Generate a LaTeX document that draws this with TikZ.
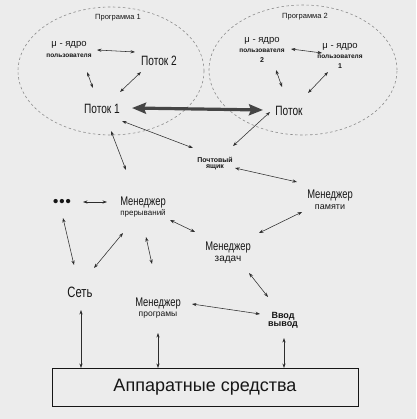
\documentclass[tikz,border=0pt]{standalone}
\usepackage{fontspec}
\setmainfont{Liberation Sans}
\newfontfamily\narrowfont[FakeStretch=0.75]{Liberation Sans}
\usetikzlibrary{arrows.meta,shapes.geometric,calc}
\definecolor{bg}{HTML}{ECECEC}
\definecolor{ink}{HTML}{161616}
\definecolor{dashgray}{HTML}{8C8C8C}
\newcommand\setfs[1]{\fontsize{#1}{#1}\selectfont}
\begin{document}
\begin{tikzpicture}[x=1pt,y=-1pt,
  link/.style={{Stealth[length=4.5pt,width=3.2pt]}-{Stealth[length=4.5pt,width=3.2pt]}, line width=0.55pt, draw=ink!90},
  biglink/.style={{Stealth[length=14pt,width=11pt,inset=2pt]}-{Stealth[length=14pt,width=11pt,inset=2pt]}, line width=3.2pt, draw=ink!80},
  progarea/.style={ellipse, draw=dashgray, dash pattern=on 2.5pt off 2.5pt, line width=0.6pt, inner sep=0pt},
  lbl/.style={text=ink, inner sep=1pt, align=center},
  hwbox/.style={draw=ink, line width=0.8pt, minimum width=306pt, minimum height=38pt, inner sep=0pt, text=ink, font=\setfs{18}}
]
\fill[bg] (0,0) rectangle (416,419);
\useasboundingbox (0,0) rectangle (416,419);

% program areas
\node[progarea, minimum width=186pt, minimum height=128pt] (prog1) at (111,71) {};
\node[progarea, minimum width=188pt, minimum height=130pt] (prog2) at (303,70) {};
\node[lbl, font=\setfs{7.5}] (p1lab) at (118,18) {Программа 1};
\node[lbl, font=\setfs{7.5}] (p2lab) at (305,17) {Программа 2};

% nodes
\node[lbl] (mu1) at (69,49) {{\setfs{9.5}μ - ядро}\\[-1pt]{\bfseries\setfs{6.5}пользователя}};
\node[lbl, font=\narrowfont\setfs{13.5}] (flow2) at (159,61) {Поток 2};
\node[lbl, font=\narrowfont\setfs{13.5}] (flow1) at (102,109) {Поток 1};
\node[lbl] (mu2b) at (262,50) {{\setfs{9.5}μ - ядро}\\[-2pt]{\bfseries\setfs{6.5}пользователя}\\[-2pt]{\bfseries\setfs{7}2}};
\node[lbl] (mu2a) at (340,56) {{\setfs{9.5}μ - ядро}\\[-2pt]{\bfseries\setfs{6.5}пользователя}\\[-2pt]{\bfseries\setfs{7}1}};
\node[lbl, font=\narrowfont\setfs{13.5}] (flowR) at (289,111) {Поток};
\node[lbl, font=\bfseries\setfs{7}] (mail) at (215,164) {Почтовый\\[-1pt]ящик};
\node[lbl] (mem) at (330,200) {{\narrowfont\setfs{12.5}Менеджер}\\[-1pt]{\setfs{9}памяти}};
\node[lbl] (irq) at (143,207) {{\narrowfont\setfs{12.5}Менеджер}\\[-2pt]{\setfs{8}прерываний}};
\node[lbl, font=\bfseries\setfs{15}] (dots) at (62,203) {•\kern1pt•\kern1pt•};
\node[lbl] (tasks) at (228,253) {{\narrowfont\setfs{12.5}Менеджер}\\[-1pt]{\setfs{10}задач}};
\node[lbl, font=\narrowfont\setfs{15}] (net) at (80,292) {Сеть};
\node[lbl] (progm) at (158,308) {{\narrowfont\setfs{12.5}Менеджер}\\[-2pt]{\setfs{8.5}програмы}};
\node[lbl, font=\bfseries\setfs{9}] (io) at (283,320) {Ввод\\[-1pt]вывод};
\node[hwbox] (hw) at (205,387) {Аппаратные средства};

% connectors
\draw[link] ($(mu1)+(28,1)$) -- ($(flow2)+(-24,-9)$);
\draw[link] ($(mu1)+(18,23)$) -- ($(flow1)+(-9,-21)$);
\draw[link] ($(flow2)+(-18,11)$) -- ($(flow1)+(18,-17)$);
\draw[biglink] ($(flow1)+(30,-1)$) -- ($(flowR)+(-26,-1)$);
\draw[link] ($(mu2b)+(29,-1)$) -- ($(mu2a)+(-18,-3)$);
\draw[link] ($(mu2b)+(14,20)$) -- ($(flowR)+(-7,-24)$);
\draw[link] ($(mu2a)+(-12,16)$) -- ($(flowR)+(19,-18)$);
\draw[link] ($(flowR)+(-19,1)$) -- ($(mail)+(18,-18)$);
\draw[link] ($(flow1)+(20,12)$) -- ($(mail)+(-22,-16)$);
\draw[link] ($(flow1)+(9,22)$) -- ($(irq)+(-17,-37)$);
\draw[link] ($(mail)+(20,4)$) -- ($(mem)+(-33,-18)$);
\draw[link] ($(mem)+(-28,12)$) -- ($(tasks)+(31,-20)$);
\draw[link] ($(tasks)+(21,20)$) -- ($(io)+(-15,-23)$);
\draw[link] ($(irq)+(27,13)$) -- ($(tasks)+(-33,-21)$);
\draw[link] ($(dots)+(21,-1)$) -- ($(irq)+(-36,-5)$);
\draw[link] ($(dots)+(1,15)$) -- ($(net)+(-6,-27)$);
\draw[link] ($(irq)+(-20,26)$) -- ($(net)+(14,-24)$);
\draw[link] ($(irq)+(3,30)$) -- ($(progm)+(-6,-44)$);
\draw[link] ($(progm)+(34,-4)$) -- ($(io)+(-23,-6)$);
\draw[link] ($(net)+(1,18)$) -- ($(hw)+(-124,-19)$);
\draw[link] ($(progm)+(0,25)$) -- ($(hw)+(-47,-19)$);
\draw[link, line width=0.9pt] ($(io)+(1,18)$) -- ($(hw)+(79,-19)$);
\end{tikzpicture}
\end{document}
